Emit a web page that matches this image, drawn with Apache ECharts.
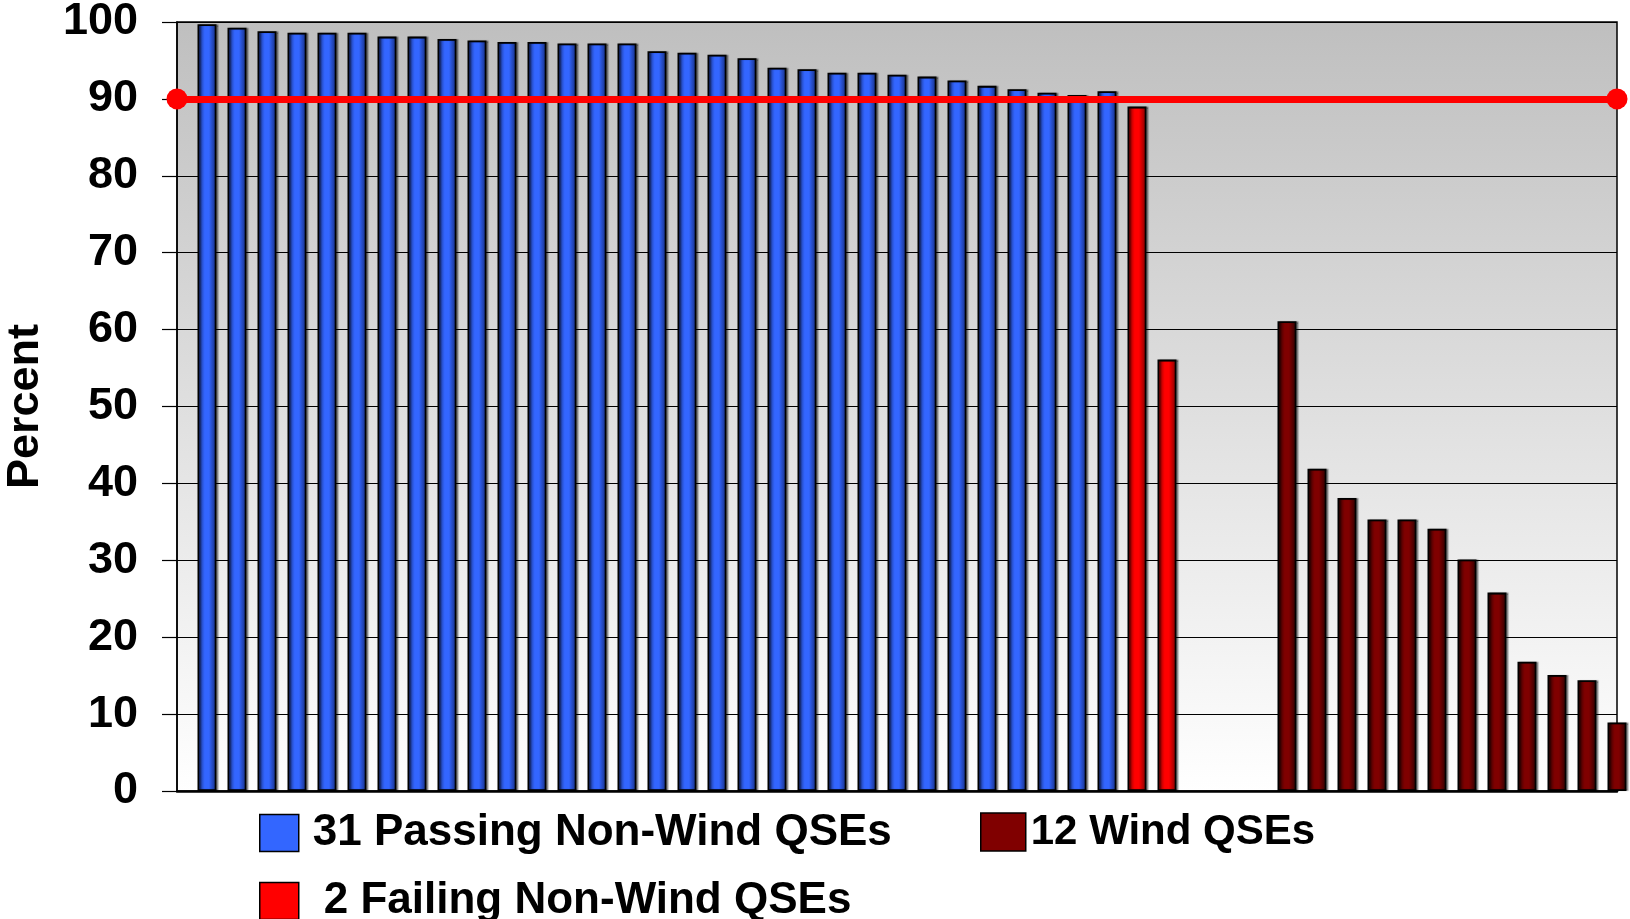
<!DOCTYPE html>
<html>
<head>
<meta charset="utf-8">
<title>QSE Percent</title>
<script src="https://cdn.jsdelivr.net/npm/echarts@6/dist/echarts.min.js"></script>
<style>
  html, body { margin: 0; padding: 0; background: #fff; }
  #main { width: 1630px; height: 919px; }
</style>
</head>
<body>
<div id="main"></div>
<script>
// values (percent), bars in display order
var passingVals = [99.7, 99.25, 98.8, 98.6, 98.6, 98.6, 98.1, 98.1, 97.8, 97.6,
  97.4, 97.4, 97.2, 97.2, 97.2, 96.2, 96.0, 95.75, 95.3, 94.05,
  93.85, 93.4, 93.4, 93.15, 92.9, 92.4, 91.7, 91.25, 90.8, 90.5, 91.0];
var failingVals = [89.0, 56.1];
var windVals = [61.1, 41.9, 38.1, 35.3, 35.3, 34.1, 30.1, 25.8, 16.8, 15.1, 14.4, 8.9];
var emptySlots = 3; // blank positions between failing and wind bars
var target = 90;
var yTicks = [0, 100, 10]; // min, max, interval

var seriesNames = ['31 Passing Non-Wind QSEs', '2 Failing Non-Wind QSEs', '12 Wind QSEs'];

var FONT = "'Liberation Sans', Arial, sans-serif";

// bar slot positions (x = 1 .. 48)
var slot = 1;
function place(vals) {
  return vals.map(function (v) { return [slot++, v]; });
}
var passingData = place(passingVals);
var failingData = place(failingVals);
slot += emptySlots;
var windData = place(windVals);
var lastSlot = slot - 1;

function shade(edge, mid) {
  return new echarts.graphic.LinearGradient(0, 0, 1, 0, [
    { offset: 0, color: edge },
    { offset: 0.38, color: mid },
    { offset: 0.6, color: mid },
    { offset: 1, color: edge }
  ]);
}

function barSeries(name, data, edge, mid) {
  return {
    name: name,
    type: 'bar',
    data: data,
    barWidth: 19,
    barGap: '-100%',
    clip: false,
    itemStyle: {
      color: shade(edge, mid),
      borderColor: '#000',
      borderWidth: 1.8,
      shadowColor: 'rgba(0,0,0,0.35)',
      shadowOffsetX: 2,
      shadowOffsetY: 0,
      shadowBlur: 1
    }
  };
}

function legendFor(name, color, left, top, w, h, pad, size) {
  return {
    data: [{ name: name, itemStyle: { color: color, borderColor: '#000', borderWidth: 1.5 } }],
    left: left,
    top: top,
    padding: 0,
    icon: 'rect',
    itemWidth: w,
    itemHeight: h,
    selectedMode: false,
    textStyle: {
      fontFamily: FONT,
      fontWeight: 'bold',
      fontSize: size,
      color: '#000',
      padding: [0, 0, 0, pad]
    }
  };
}

var chart = echarts.init(document.getElementById('main'), null, { renderer: 'canvas' });

var passing = barSeries(seriesNames[0], passingData, '#142a78', '#3366ff');
passing.markLine = {
  silent: true,
  symbol: ['circle', 'circle'],
  symbolSize: 21,
  label: { show: false },
  lineStyle: { color: '#ff0000', width: 7, type: 'solid' },
  emphasis: { disabled: true },
  data: [{ yAxis: target }],
  z: 10
};

chart.setOption({
  animation: false,
  backgroundColor: '#fff',
  grid: {
    left: 177,
    top: 22,
    width: 24 * 60,
    height: 769,
    outerBoundsMode: 'none',
    containLabel: false,
    show: true,
    borderColor: '#000',
    borderWidth: 1.5,
    backgroundColor: new echarts.graphic.LinearGradient(0, 0, 0, 1, [
      { offset: 0, color: '#bfbfbf' },
      { offset: 1, color: '#ffffff' }
    ])
  },
  legend: [
    legendFor(seriesNames[0], '#3366ff', 259, 811, 39, 37, 9, 44),
    legendFor(seriesNames[2], '#800000', 980, 811, 45, 38, 0, 42),
    legendFor(seriesNames[1], '#ff0000', 259, 879, 39, 37, 20, 44)
  ],
  xAxis: {
    type: 'value',
    min: 0,
    max: lastSlot,
    axisLine: { show: true, onZero: true, lineStyle: { color: '#000', width: 2.5 } },
    axisTick: { show: false },
    axisLabel: { show: false },
    splitLine: { show: false }
  },
  yAxis: {
    type: 'value',
    min: yTicks[0],
    max: yTicks[1],
    interval: yTicks[2],
    name: 'Percent',
    nameLocation: 'middle',
    nameRotate: 90,
    nameGap: 129,
    nameTextStyle: { fontFamily: FONT, fontWeight: 'bold', fontSize: 45, color: '#000' },
    axisLine: { show: true, lineStyle: { color: '#000', width: 1.5 } },
    axisTick: { show: true, inside: false, length: 15, lineStyle: { color: '#000', width: 1.2 } },
    axisLabel: {
      fontFamily: FONT,
      fontWeight: 'bold',
      fontSize: 45,
      color: '#000',
      margin: 39
    },
    splitLine: { show: true, lineStyle: { color: '#000', width: 1 } }
  },
  series: [
    passing,
    barSeries(seriesNames[1], failingData, '#7a0000', '#ff0000'),
    barSeries(seriesNames[2], windData, '#2a0000', '#7f0000')
  ]
});
</script>
</body>
</html>
